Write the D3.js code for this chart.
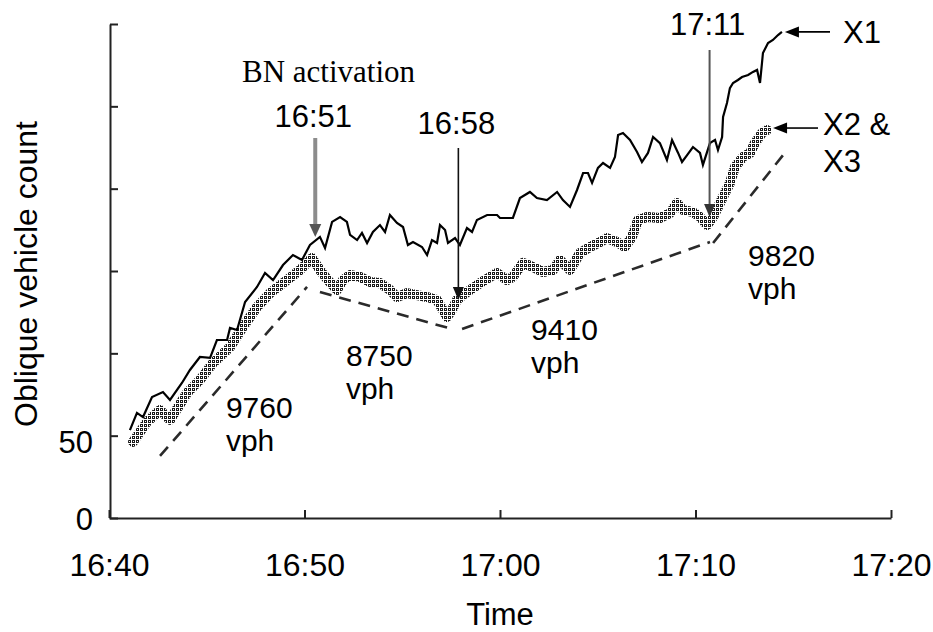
<!DOCTYPE html>
<html><head><meta charset="utf-8">
<script src="https://cdn.jsdelivr.net/npm/d3@7"></script>
<style>
body{margin:0;background:#fff}
svg{display:block;background:#fff}
text{font-family:"Liberation Sans",Arial,sans-serif;fill:#000}
</style>
</head><body><svg id="chart" width="933" height="632"></svg>
<script>
// ---------------- data ----------------
const xTickLabels = ["16:40","16:50","17:00","17:10","17:20"];
const yTickValues = [0,50,100,150,200,250,300];
const yTickLabels = ["0","50"];

const x1Minutes = [1.07,1.43,1.74,2.20,2.76,3.12,3.73,4.14,4.65,5.17,5.52,6.04,6.19,6.55,6.96,7.57,7.98,8.39,8.90,9.41,9.87,10.28,10.79,11.05,11.41,11.82,12.17,12.33,12.69,12.94,13.20,13.50,13.86,14.12,14.37,14.73,15.04,15.29,15.55,16.01,16.27,16.52,16.78,16.93,17.19,17.34,17.70,17.95,18.31,18.57,18.82,19.34,19.85,20.00,20.66,21.02,21.53,21.89,22.40,22.92,23.22,23.58,23.94,24.25,24.50,24.71,25.01,25.27,25.63,25.88,26.04,26.29,26.65,27.01,27.26,27.57,27.83,28.18,28.54,28.80,29.11,29.31,29.57,29.87,30.23,30.38,30.74,31.00,31.15,31.36,31.41,31.61,31.76,31.92,32.17,32.38,32.69,32.94,33.15,33.30,33.40,33.45,33.71,33.96,34.22,34.42];
const x1Count = [53.4,63.8,61.3,73.5,76.5,71.7,82.0,89.9,97.8,97.2,108.1,108.1,115.4,114.2,131.2,140.3,148.8,144.5,153.6,159.7,156.7,165.8,170.7,164.0,179.8,182.8,179.8,171.9,168.8,173.1,167.0,173.7,177.9,173.7,184.0,179.2,176.7,165.8,167.6,164.6,159.7,168.8,167.0,177.9,174.9,167.0,170.0,165.8,176.1,173.7,181.0,184.0,184.0,182.2,182.2,194.3,198.0,194.3,193.1,198.0,193.1,188.9,199.2,209.5,209.5,203.5,212.6,215.6,212.6,219.2,232.6,233.8,229.6,222.3,216.2,221.7,231.4,227.7,217.4,229.6,221.7,216.2,220.4,225.3,221.7,214.4,227.7,229.6,223.5,231.4,243.5,252.0,261.1,264.2,266.0,267.8,269.0,270.9,272.1,264.2,276.3,282.4,288.5,290.3,293.3,295.2];

const x23Minutes = [1.23,1.94,2.61,3.12,3.99,4.65,5.32,6.19,6.85,7.57,8.24,9.11,9.77,10.38,10.79,11.20,11.66,11.97,12.33,12.84,13.35,13.86,14.37,14.73,15.24,15.75,16.27,16.78,17.08,17.29,17.54,17.80,18.11,18.47,18.98,19.49,19.85,20.36,20.66,21.18,21.69,22.20,22.71,23.07,23.58,24.09,24.60,25.12,25.47,25.98,26.39,26.75,27.06,27.52,28.18,28.70,29.05,29.36,29.87,30.23,30.59,30.90,31.25,31.76,32.02,32.43,32.79,33.04,33.40,33.66];
const x23Count = [46.2,58.3,65.6,59.5,75.9,83.8,94.1,103.8,116.0,128.1,136.6,144.5,150.6,157.9,150.6,144.5,138.5,144.5,147.6,146.4,143.3,142.7,138.5,134.2,136.6,135.4,134.2,132.4,126.3,122.1,126.3,132.4,135.4,138.5,142.7,146.4,148.8,144.5,146.4,154.9,152.4,149.4,150.6,156.7,150.6,160.9,164.6,167.6,170.0,167.6,164.6,170.7,181.0,182.8,182.2,185.2,191.3,187.1,185.8,182.8,177.9,182.8,191.3,203.5,213.2,219.2,221.7,227.7,233.8,235.6];

const flowRates = ["9760","8750","9410","9820"];
const flowStartMinutes = [2.61,10.79,18.06,30.90];
const flowStartCount = [37.7,137.2,114.8,167.0];
const flowEndMinutes = [10.13,17.54,30.74,34.48];
const flowEndCount = [140.3,114.8,167.6,220.4];

const eventLabels = ["16:51","16:58","17:11"];
const eventMinutes = [10.55,17.87,30.72];
const eventTipCount = [170.7,132.4,182.8];

const seriesNames = ["X1","X2 & X3"];

// ---------------- scales ----------------
const parse = d3.timeParse("%H:%M");
const t0 = parse(xTickLabels[0]);
const toTime = m => new Date(t0.getTime() + m * 60000);
const x = d3.scaleTime().domain([parse(xTickLabels[0]), parse(xTickLabels[xTickLabels.length-1])]).range([109, 891]);
const y = d3.scaleLinear().domain([0, 300]).range([518, 24]);

const svg = d3.select("#chart");

// halftone pattern for the X2 & X3 band
const defs = svg.append("defs");
const pat = defs.append("pattern").attr("id","dots").attr("patternUnits","userSpaceOnUse")
  .attr("width",4).attr("height",4);
pat.append("rect").attr("width",4).attr("height",4).attr("fill","#fff");
pat.append("rect").attr("width",3).attr("height",3).attr("fill","#1a1a1a").attr("shape-rendering","crispEdges");
pat.append("rect").attr("x",1).attr("y",1).attr("width",1).attr("height",1).attr("fill","#fff").attr("shape-rendering","crispEdges");

// ---------------- axes ----------------
const xAxis = d3.axisBottom(x)
  .tickValues(xTickLabels.map(parse))
  .tickSizeInner(-8).tickSizeOuter(0)
  .tickFormat(d3.timeFormat("%H:%M"));
const gx = svg.append("g").attr("transform",`translate(0,${y(0)})`).call(xAxis);
gx.select(".domain").attr("stroke","#222").attr("stroke-width",2);
gx.selectAll(".tick line").attr("stroke","#222").attr("stroke-width",2);
gx.selectAll(".tick text").attr("y",58).attr("dy",null)
  .style("font-size","32px").style("font-family","'Liberation Sans',Arial,sans-serif").attr("fill","#000");

const yAxis = d3.axisLeft(y).tickValues(yTickValues).tickSizeInner(-8).tickSizeOuter(0).tickFormat("");
const gy = svg.append("g").attr("transform",`translate(${x(t0)+1},0)`).call(yAxis);
gy.select(".domain").attr("stroke","#222").attr("stroke-width",2);
gy.selectAll(".tick line").attr("stroke","#222").attr("stroke-width",2);

const yLabelOffsets = [12, 17];
yTickLabels.forEach((lab, i) => {
  svg.append("text").attr("x", 93).attr("y", y(+lab) + yLabelOffsets[i])
    .attr("text-anchor","end").style("font-size","31px").text(lab);
});

svg.append("text").attr("x", 500).attr("y", 625).attr("text-anchor","middle")
  .style("font-size","31px").text("Time");
svg.append("text").attr("transform","translate(37,274) rotate(-90)").attr("text-anchor","middle")
  .style("font-size","32px").text("Oblique vehicle count");

// ---------------- flow dashed lines ----------------
flowRates.forEach((r, i) => {
  svg.append("line")
    .attr("x1", x(toTime(flowStartMinutes[i]))).attr("y1", y(flowStartCount[i]))
    .attr("x2", x(toTime(flowEndMinutes[i]))).attr("y2", y(flowEndCount[i]))
    .attr("stroke","#2a2a2a").attr("stroke-width",2.6).attr("stroke-dasharray","12,8");
});

// ---------------- series ----------------
const line = d3.line().x(d => x(toTime(d[0]))).y(d => y(d[1]));
const band = x23Minutes.map((m,i) => [m, x23Count[i]]);
svg.append("path").datum(band).attr("d", line)
  .attr("fill","none").attr("stroke","url(#dots)").attr("stroke-width",10)
  .attr("stroke-linejoin","round").attr("stroke-linecap","round");

const s1 = x1Minutes.map((m,i) => [m, x1Count[i]]);
svg.append("path").datum(s1).attr("d", line)
  .attr("fill","none").attr("stroke","#000").attr("stroke-width",2.2).attr("stroke-linejoin","miter");

// ---------------- annotations ----------------
function arrowDown(px, yTop, yTip, lineColor, lw, headColor, hw, hh) {
  svg.append("line").attr("x1",px).attr("x2",px).attr("y1",yTop).attr("y2",yTip-hh+1)
    .attr("stroke",lineColor).attr("stroke-width",lw);
  svg.append("path").attr("d",`M${px-hw/2},${yTip-hh}L${px+hw/2},${yTip-hh}L${px},${yTip}Z`).attr("fill",headColor);
}
function arrowLeft(xTip, py, xEnd, color, lw, hw, hl) {
  svg.append("line").attr("x1",xTip+hl-1).attr("x2",xEnd).attr("y1",py).attr("y2",py)
    .attr("stroke",color).attr("stroke-width",lw);
  svg.append("path").attr("d",`M${xTip},${py}L${xTip+hl},${py-hw/2}L${xTip+hl},${py+hw/2}Z`).attr("fill",color);
}

const eventStyles = [
  {top:138, lc:"#8c8c8c", lw:4, hc:"#555", hw:12, hh:13, ly:127},
  {top:148, lc:"#111", lw:1.6, hc:"#111", hw:11, hh:13, ly:134},
  {top:50,  lc:"#555", lw:2, hc:"#333", hw:11, hh:13, ly:35}
];
eventLabels.forEach((lab, i) => {
  const px = x(toTime(eventMinutes[i]));
  const s = eventStyles[i];
  arrowDown(px, s.top, y(eventTipCount[i]), s.lc, s.lw, s.hc, s.hw, s.hh);
  svg.append("text").attr("x", px - 2).attr("y", s.ly).attr("text-anchor","middle")
    .style("font-size","31px").text(lab);
});
svg.append("text").attr("x", 242).attr("y", 82)
  .style("font-family","'Liberation Serif','Times New Roman',serif").style("font-size","31px")
  .text("BN activation");

// series labels
const endX1 = s1[s1.length-1], endB = band[band.length-1];
arrowLeft(x(toTime(endX1[0])) + 3, y(endX1[1]), 830, "#000", 1.6, 11, 14);
arrowLeft(x(toTime(endB[0])) + 6, y(endB[1]) - 2, 818, "#000", 1.6, 11, 14);
svg.append("text").attr("x", 843).attr("y", 43).style("font-size","31px").text(seriesNames[0]);
const parts = seriesNames[1].split(" & ");
svg.append("text").attr("x", 823).attr("y", 135).style("font-size","31px").text(parts[0] + " &");
svg.append("text").attr("x", 823).attr("y", 172).style("font-size","31px").text(parts[1]);

// flow rate labels
const flowLabelPos = [[5.98, 60.7],[12.12, 92.3],[21.59, 108.1],[32.69, 153.0]];
flowRates.forEach((r, i) => {
  const px = x(toTime(flowLabelPos[i][0])), py = y(flowLabelPos[i][1]);
  svg.append("text").attr("x", px).attr("y", py).style("font-size","30px").text(r);
  svg.append("text").attr("x", px).attr("y", py + 33).style("font-size","30px").text("vph");
});
</script>
</body></html>
